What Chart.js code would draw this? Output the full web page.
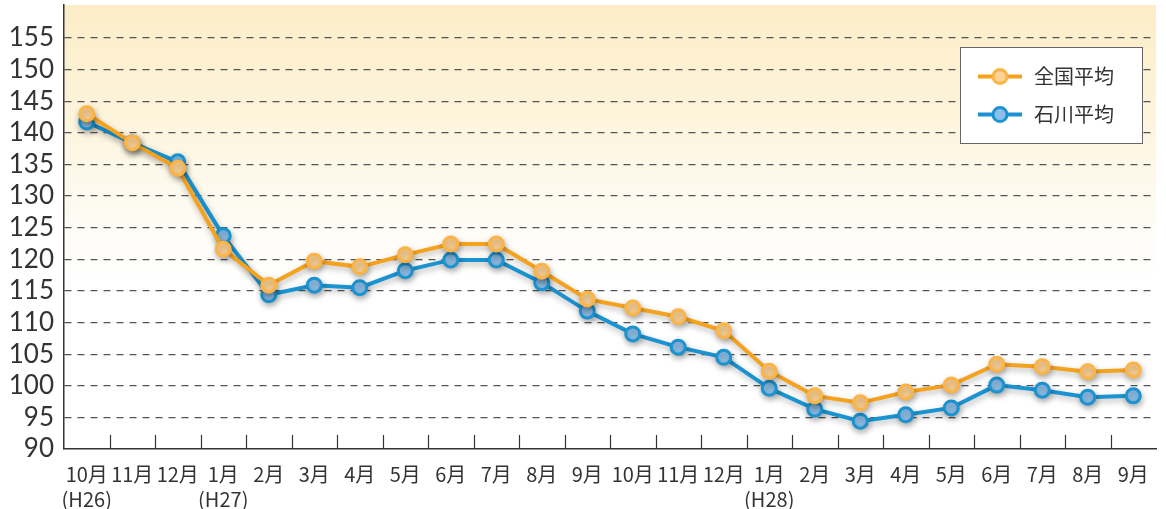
<!DOCTYPE html>
<html><head><meta charset="utf-8">
<script src="https://cdn.jsdelivr.net/npm/chart.js@4/dist/chart.umd.min.js"></script>
<style>html,body{margin:0;padding:0;background:#fff;overflow:hidden}#w{width:1166px;height:514px;margin-top:-5px}</style>
</head><body><div id="w"><canvas id="c"></canvas></div>
<script>
const categories = [['10月','(H26)'],'11月','12月',['1月','(H27)'],'2月','3月','4月','5月','6月','7月','8月','9月','10月','11月','12月',['1月','(H28)'],'2月','3月','4月','5月','6月','7月','8月','9月'];
const nationalAvg = [143.0,138.4,134.4,121.6,115.9,119.7,118.8,120.7,122.4,122.4,118.1,113.7,112.3,110.9,108.7,102.3,98.4,97.3,99.0,100.1,103.4,103.0,102.2,102.5];
const ishikawaAvg = [141.7,138.4,135.4,123.7,114.4,115.9,115.5,118.2,119.9,119.9,116.3,111.8,108.2,106.1,104.5,99.6,96.3,94.4,95.4,96.5,100.1,99.3,98.2,98.4];
const seriesNames = ['全国平均','石川平均'];
const yTicks = [90,95,100,105,110,115,120,125,130,135,140,145,150,155];

const bgPlugin = {
  id:'bg',
  beforeDraw(chart){
    const {ctx, chartArea:a} = chart;
    const g = ctx.createLinearGradient(0,a.top,0,a.bottom);
    g.addColorStop(0,'#fcedc6');
    g.addColorStop(0.25,'#fdf4dc');
    g.addColorStop(0.5,'#fefcf6');
    g.addColorStop(0.62,'#ffffff');
    g.addColorStop(1,'#ffffff');
    ctx.save(); ctx.fillStyle=g; ctx.fillRect(a.left,a.top,a.right-a.left,a.bottom-a.top); ctx.restore();
  },
  beforeDatasetsDraw(chart){
    const ctx=chart.ctx; ctx.save();
    ctx.shadowColor='rgba(0,0,0,0.28)'; ctx.shadowBlur=6; ctx.shadowOffsetX=1; ctx.shadowOffsetY=3;
  },
  afterDatasetsDraw(chart){ chart.ctx.restore(); },
  afterDraw(chart){
    const {ctx, chartArea:a, scales:{x}} = chart;
    ctx.save();
    ctx.strokeStyle='#333'; ctx.lineWidth=1.2;
    const step = x.getPixelForValue(1)-x.getPixelForValue(0);
    for(let i=1;i<categories.length;i++){
      const px = Math.round(x.getPixelForValue(i)-step/2)+0.5;
      ctx.beginPath(); ctx.moveTo(px,a.bottom); ctx.lineTo(px,a.bottom-14); ctx.stroke();
    }
    // legend
    const lx=960.5, ly=52.5, lw=182, lh=96;
    ctx.fillStyle='#fff'; ctx.fillRect(lx,ly,lw,lh);
    ctx.strokeStyle='#666'; ctx.lineWidth=1; ctx.strokeRect(lx,ly,lw,lh);
    chart.data.datasets.forEach((ds,i)=>{
      const cy = ly+29+i*38;
      ctx.strokeStyle=ds.borderColor; ctx.lineWidth=4;
      ctx.beginPath(); ctx.moveTo(978,cy); ctx.lineTo(1022,cy); ctx.stroke();
      ctx.beginPath(); ctx.arc(1000,cy,7,0,Math.PI*2);
      ctx.fillStyle=ds.pointBackgroundColor; ctx.fill();
      ctx.lineWidth=3; ctx.strokeStyle=ds.pointBorderColor; ctx.stroke();
      ctx.fillStyle='#333'; ctx.font='20px "Noto Sans CJK JP"'; ctx.textBaseline='middle';
      ctx.fillText(ds.label,1034,cy);
    });
    ctx.restore();
  }
};

new Chart(document.getElementById('c'),{
  type:'line',
  data:{labels:categories,datasets:[
    {label:seriesNames[0],data:nationalAvg,borderColor:'#f5a21e',borderWidth:4,pointRadius:7,pointHoverRadius:7,pointBorderWidth:3,pointBackgroundColor:'#fdd294',pointBorderColor:'#fbb445',tension:0},
    {label:seriesNames[1],data:ishikawaAvg,borderColor:'#1b93d0',borderWidth:4,pointRadius:7,pointHoverRadius:7,pointBorderWidth:3,pointBackgroundColor:'#8ebfe8',pointBorderColor:'#1b93d0',tension:0}
  ]},
  plugins:[bgPlugin],
  options:{
    responsive:true,maintainAspectRatio:false,animation:false,
    layout:{padding:{top:0,right:0,left:0,bottom:0}},
    plugins:{legend:{display:false},tooltip:{enabled:false}},
    scales:{
      x:{offset:true,
        grid:{display:false,offset:true},
        border:{display:true,color:'#333',width:1.5},
        afterFit(s){ s.height=60; s.paddingLeft=0; s.paddingRight=0; },
        ticks:{color:'#333',font:{family:'"Noto Sans CJK JP"',size:20,lineHeight:1.25},padding:5,maxRotation:0,autoSkip:false}
      },
      y:{min:90,max:160.2,
        afterBuildTicks(s){ s.ticks = yTicks.map(v=>({value:v})); },
        afterFit(s){ s.width=64; s.paddingTop=0; s.paddingBottom=0; },
        grid:{color:(c)=>c.tick && c.tick.value===90?'rgba(0,0,0,0)':'#555',lineWidth:1.2,drawTicks:false},
        border:{display:true,color:'#333',width:1.5,dash:[7,6]},
        ticks:{color:'#333',font:{family:'Lato',size:26},padding:10,autoSkip:false}
      }
    }
  }
});
</script></body></html>
